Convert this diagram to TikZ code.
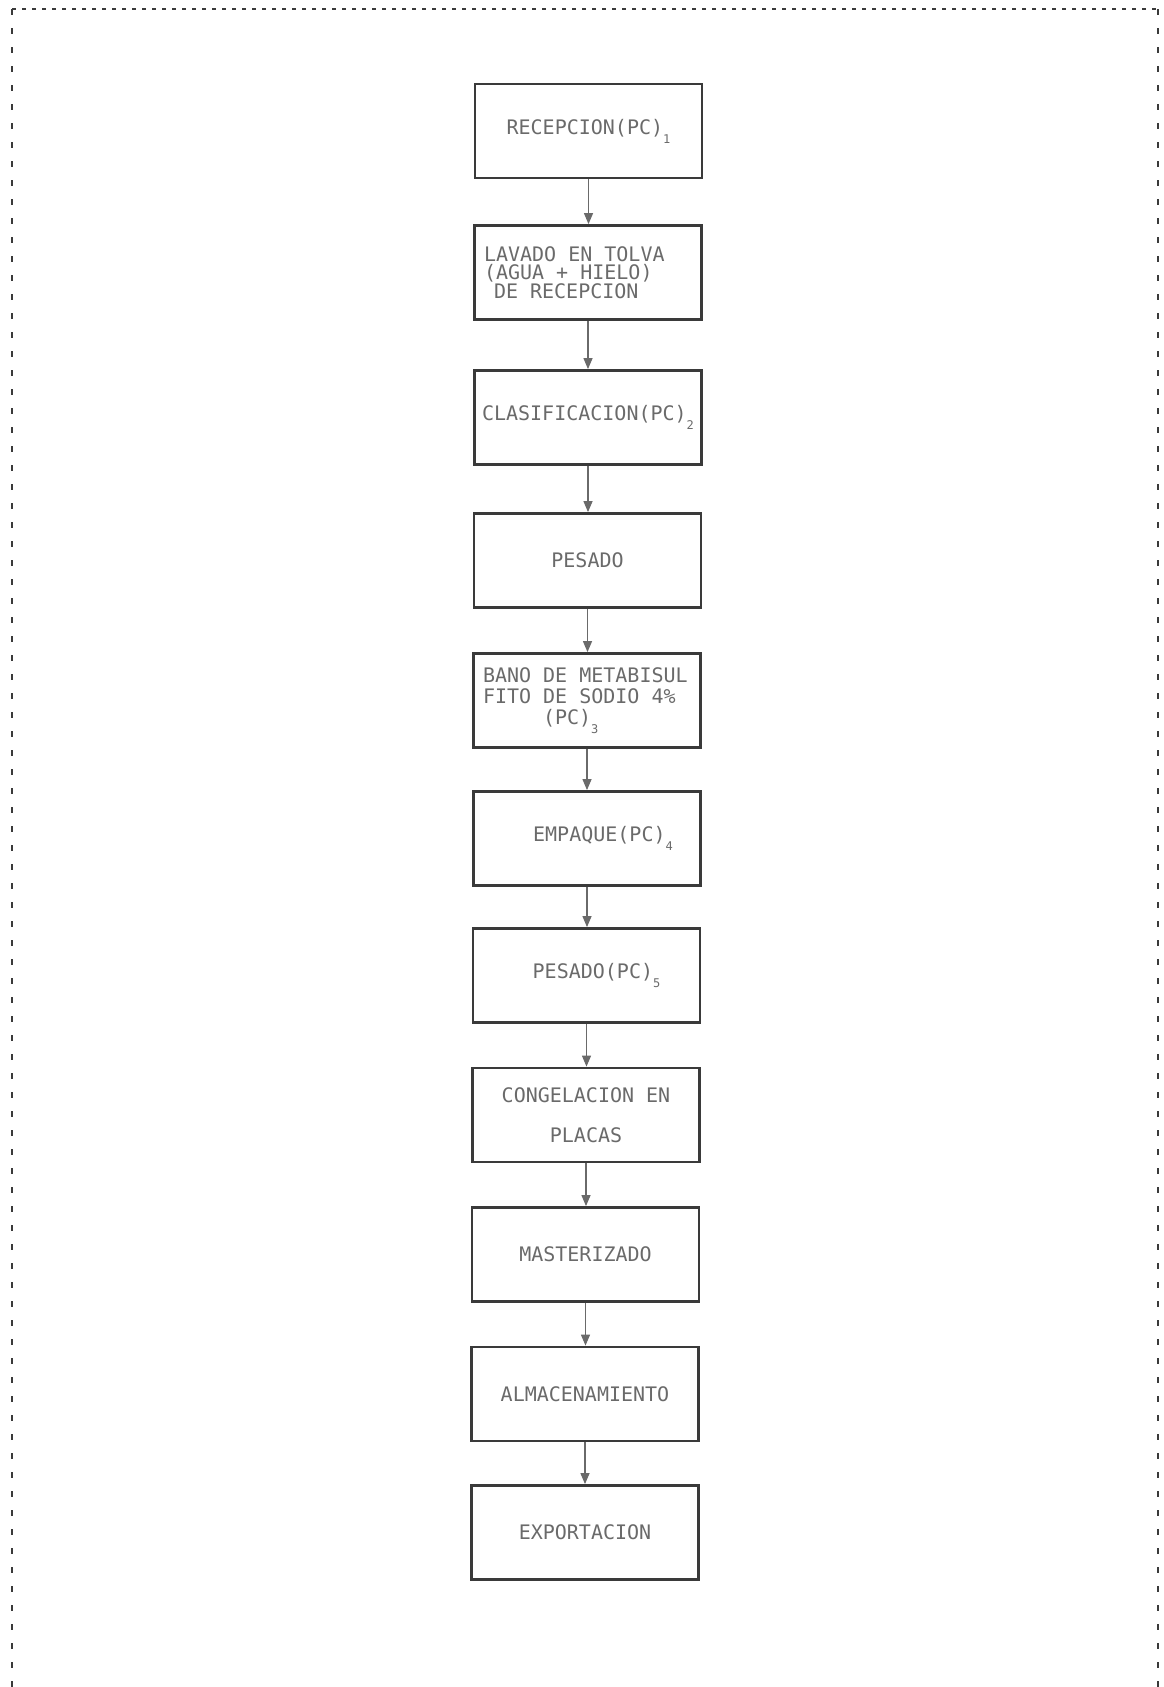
\documentclass[tikz,border=0pt]{standalone}
\usepackage{fontspec}
\setmonofont{DejaVu Sans Mono}
\usetikzlibrary{arrows.meta}
\definecolor{ink}{HTML}{3A3A3A}
\definecolor{txt}{HTML}{6A6A6A}
\newcommand{\sbx}[1]{\raisebox{-4.5pt}{\fontsize{6}{6}\selectfont #1}}
\newcommand{\boxfont}[1]{\ttfamily\fontsize{10}{#1}\selectfont}
\newcommand{\fixsp}{\spaceskip 6.02pt\relax\xspaceskip 6.02pt\relax}
\begin{document}
\begin{tikzpicture}[x=0.5pt,y=-0.5pt,
  stepbox/.style={draw=ink, line width=1.4pt, minimum width=113.5pt, minimum height=47pt,
    inner sep=0pt, text=txt, font={\boxfont{10}}, align=center},
  flow/.style={draw=txt, line width=0.6pt, -{Triangle[width=4.5pt,length=5.5pt]}},
  topdash/.style={draw=ink, line width=0.8pt, dash pattern=on 2pt off 3pt},
  sidedash/.style={draw=ink, line width=0.8pt, dash pattern=on 3pt off 6.5pt}]
\useasboundingbox (0,0) rectangle (1163,1687);
\coordinate (bl) at (12,1687);
\coordinate (tl) at (12,9);
\coordinate (tr) at (1158,9);
\coordinate (br) at (1158,1687);
\draw[topdash] (tl) -- (tr);
\draw[sidedash] (tl) -- (bl);
\draw[sidedash] (tr) -- (br);

\node[stepbox] (n1) at (588.5,131) {RECEPCION(PC)\sbx{1}};
\node[stepbox, align=left, text width=104pt, font={\boxfont{9.3}}] (n2) at (588,272.5)
  {\fixsp LAVADO EN TOLVA\\(AGUA + HIELO)\\\hspace*{5pt}DE RECEPCION};
\node[stepbox] (n3) at (588,417.5) {CLASIFICACION(PC)\sbx{2}};
\node[stepbox] (n4) at (587.5,560.5) {PESADO};
\node[stepbox, align=left, text width=104pt, font={\boxfont{10.5}}] (n5) at (587,700.5)
  {\fixsp BANO DE METABISUL\\FITO DE SODIO 4\%\\\hspace*{30pt}(PC)\sbx{3}};
\node[stepbox] (n6) at (587,838.5) {\hspace*{16pt}EMPAQUE(PC)\sbx{4}};
\node[stepbox] (n7) at (586.5,975.5) {\hspace*{10pt}PESADO(PC)\sbx{5}};
\node[stepbox, font={\boxfont{20}}] (n8) at (586,1115) {\fixsp CONGELACION EN\\PLACAS};
\node[stepbox] (n9) at (585.5,1254.5) {MASTERIZADO};
\node[stepbox] (n10) at (585,1394) {ALMACENAMIENTO};
\node[stepbox] (n11) at (585,1532.5) {EXPORTACION};

\foreach \a/\b in {n1/n2,n2/n3,n3/n4,n4/n5,n5/n6,n6/n7,n7/n8,n8/n9,n9/n10,n10/n11}
  \draw[flow] (\a.south) -- (\a.south |- \b.north);
\end{tikzpicture}
\end{document}
